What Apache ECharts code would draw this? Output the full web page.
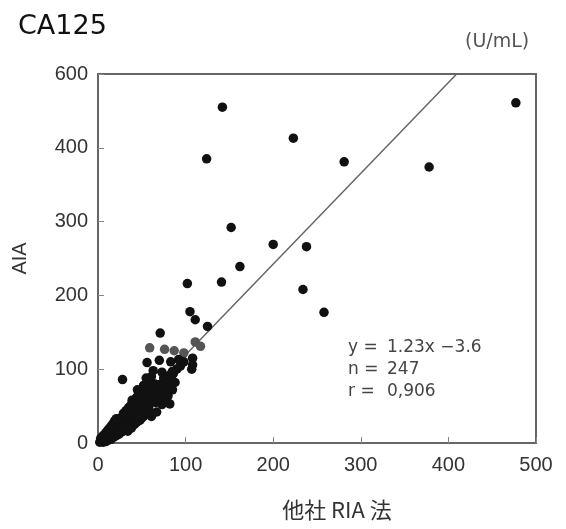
<!DOCTYPE html>
<html>
<head>
<meta charset="utf-8">
<script src="https://cdn.jsdelivr.net/npm/echarts@6/dist/echarts.min.js"></script>
<style>
  html, body { margin: 0; padding: 0; background: #fff; }
  #box1 { width: 566px; height: 529px; }
</style>
</head>
<body>
<div id="box1"></div>
<script>
// axis ticks
var xTicks = [0, 100, 200, 300, 400, 500];
var yTicks = [0, 100, 200, 300, 400, 500];
// the original figure prints "600" at the top tick
var yTickLabels = ['0', '100', '200', '300', '400', '600'];

// regression  y = 1.23x - 3.6
var fitSlope = 1.23;
var fitIntercept = -3.6;
var fitText = ['y =', 'n =', 'r ='];
var fitValues = ['1.23x \u22123.6', '247', '0,906'];

// outliers and upper part
var blackOuter = [
  [477, 461], [142, 455], [223, 413], [124, 385], [281, 381], [378, 374],
  [152, 292], [200, 269], [238, 266], [162, 239], [102, 216], [141, 218],
  [234, 208], [258, 177], [105, 178], [111, 167], [125, 158],
  [71, 149], [28, 86], [82, 53],
  [56, 109], [70, 112], [83, 110], [92, 113], [108, 115], [108, 106], [107, 100], [85, 97]
];

// dense cluster near the origin
var blackCluster = [
  [2, 1], [3, 3], [4, 5], [5, 2], [6, 4], [6, 7], [7, 3], [8, 6], [8, 9], [9, 4],
  [10, 8], [10, 12], [11, 6], [12, 10], [12, 14], [13, 8], [14, 12], [14, 17], [15, 9], [16, 14],
  [16, 20], [17, 11], [18, 16], [18, 22], [19, 13], [20, 18], [20, 25], [21, 14], [22, 20], [22, 28],
  [23, 17], [24, 23], [25, 30], [25, 15], [26, 20], [27, 26], [28, 32], [29, 22], [30, 28], [30, 36],
  [31, 20], [32, 25], [33, 33], [34, 40], [35, 28], [36, 22], [36, 35], [37, 44], [38, 30], [39, 38],
  [40, 24], [40, 46], [41, 42], [42, 33], [43, 52], [44, 28], [45, 56], [46, 40], [47, 60], [48, 31],
  [48, 50], [50, 65], [51, 45], [52, 78], [52, 36], [53, 70], [54, 58], [55, 44], [56, 62], [57, 82],
  [58, 50], [59, 86], [60, 74], [61, 36], [62, 68], [63, 56], [65, 80], [66, 62], [67, 42], [68, 72],
  [70, 58], [71, 66], [72, 80], [73, 52], [74, 70], [75, 88], [76, 62], [77, 78], [78, 70], [80, 64],
  [82, 76], [84, 86], [85, 72], [86, 94], [88, 82], [90, 100], [94, 104], [98, 110],
  [3, 6], [5, 9], [7, 11], [9, 14], [11, 17], [13, 20], [15, 23], [17, 26], [19, 30], [21, 33],
  [6, 1], [9, 2], [12, 4], [15, 5], [18, 8], [21, 10], [24, 12], [27, 15], [30, 18], [33, 21],
  [26, 34], [29, 40], [32, 44], [35, 48], [38, 52], [41, 56], [44, 62], [47, 68],
  [34, 16], [38, 20], [42, 26], [46, 30], [50, 34], [54, 40], [58, 46], [66, 55],
  [64, 74], [61, 90], [55, 88], [45, 72], [39, 58],
  [63, 98], [73, 96], [82, 92]
];

// gray points
var grayPoints = [[59, 129], [76, 127], [87, 125], [98, 122], [111, 137], [117, 131]];

var dom = document.getElementById('box1');
var myChart = echarts.init(dom);

var xEnd = (500 - fitIntercept) / fitSlope;
var xStart = -fitIntercept / fitSlope;
var fitLine = [[xStart, fitSlope * xStart + fitIntercept], [xEnd, fitSlope * xEnd + fitIntercept]];

var font = 'Liberation Sans, Arial, sans-serif';
var wide = 'DejaVu Sans, sans-serif';

var graphics = [
  { type: 'text', left: 465, top: 33, style: { text: '(U/mL)', fontSize: 19, fill: '#555', fontFamily: wide } }
];
fitText.forEach(function (t, i) {
  graphics.push({ type: 'text', left: 348, top: 339 + i * 22, style: { text: t, fontSize: 17, fill: '#444', fontFamily: wide } });
  graphics.push({ type: 'text', left: 387, top: 339 + i * 22, style: { text: fitValues[i], fontSize: 17, fill: '#444', fontFamily: wide } });
});

var option = {
  animation: false,
  backgroundColor: '#fff',
  textStyle: { fontFamily: font },
  title: {
    text: 'CA125',
    left: 13,
    top: 8,
    textStyle: { fontSize: 27, fontWeight: 'normal', color: '#111', fontFamily: wide }
  },
  grid: {
    left: 98, right: 30, top: 74, bottom: 86,
    show: true, borderColor: '#666', borderWidth: 2
  },
  xAxis: {
    type: 'value',
    min: xTicks[0], max: xTicks[xTicks.length - 1], interval: 100,
    name: '他社 RIA 法',
    nameLocation: 'middle',
    nameGap: 56,
    nameTextStyle: { fontSize: 22, color: '#333', fontFamily: 'Noto Sans CJK JP, ' + font, padding: [0, 0, 0, 40] },
    axisLine: { show: false },
    axisTick: { show: true, inside: true, length: 6, lineStyle: { color: '#888' } },
    axisLabel: { fontSize: 20, color: '#333', margin: 12 },
    splitLine: { show: false }
  },
  yAxis: {
    type: 'value',
    min: yTicks[0], max: yTicks[yTicks.length - 1], interval: 100,
    name: 'AIA',
    nameLocation: 'middle',
    nameGap: 68,
    nameRotate: 90,
    nameTextStyle: { fontSize: 20, color: '#333' },
    axisLine: { show: false },
    axisTick: { show: true, inside: true, length: 6, lineStyle: { color: '#888' } },
    axisLabel: {
      fontSize: 20, color: '#333', margin: 10,
      formatter: function (v) { return yTickLabels[yTicks.indexOf(v)]; }
    },
    splitLine: { show: false }
  },
  graphic: graphics,
  series: [
    {
      type: 'line',
      data: fitLine,
      symbol: 'none',
      lineStyle: { color: '#666', width: 1.5 },
      z: 1
    },
    {
      type: 'scatter',
      data: grayPoints,
      symbolSize: 9.5,
      itemStyle: { color: '#555', opacity: 1 },
      z: 2
    },
    {
      type: 'scatter',
      data: blackCluster.concat(blackOuter),
      symbolSize: 9.5,
      itemStyle: { color: '#111', opacity: 1 },
      z: 3
    }
  ]
};

if (option && typeof option === 'object') {
  myChart.setOption(option);
}
</script>
</body>
</html>
